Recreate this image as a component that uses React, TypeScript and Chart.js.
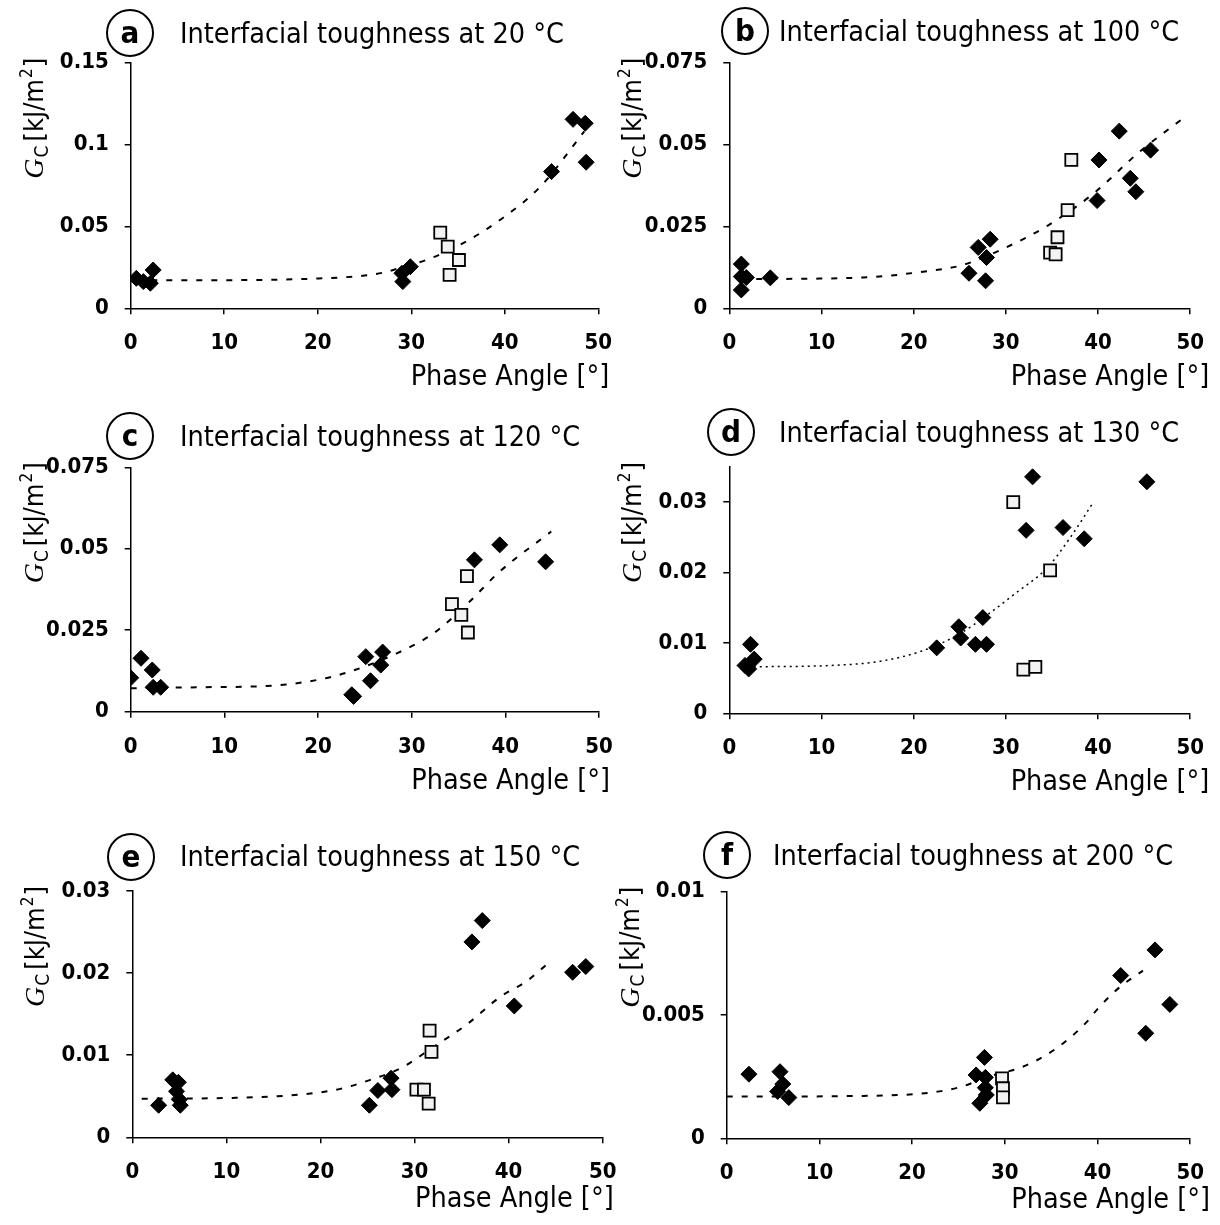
import React, { useEffect, useRef } from 'react';
import { Chart, registerables } from 'chart.js';

Chart.register(...registerables);

const FONT = "'DejaVu Sans Condensed', 'DejaVu Sans', sans-serif";

// ---------- data ----------
const panelLetters = ['a', 'b', 'c', 'd', 'e', 'f'];
const panelTitles = [
  'Interfacial toughness at 20 °C',
  'Interfacial toughness at 100 °C',
  'Interfacial toughness at 120 °C',
  'Interfacial toughness at 130 °C',
  'Interfacial toughness at 150 °C',
  'Interfacial toughness at 200 °C',
];
const xTitle = 'Phase Angle [°]';
const xTicks = [0, 10, 20, 30, 40, 50];
const yTicksA = [0, 0.05, 0.1, 0.15];
const yTicksB = [0, 0.025, 0.05, 0.075];
const yTicksC = [0, 0.025, 0.05, 0.075];
const yTicksD = [0, 0.01, 0.02, 0.03];
const yTicksE = [0, 0.01, 0.02, 0.03];
const yTicksF = [0, 0.005, 0.01];
const yMaxes = [0.15, 0.075, 0.075, 0.035, 0.03, 0.01];

// panel a (20 °C)
const aDiamonds = [[0.6, 0.0183], [1.35, 0.0163], [2.1, 0.0153], [2.4, 0.0234], [29.0, 0.0214], [29.1, 0.0163], [29.9, 0.0254], [45.0, 0.0835], [47.3, 0.1154], [48.6, 0.113], [48.7, 0.0892]];
const aSquares = [[33.1, 0.0462], [33.9, 0.0377], [35.1, 0.0295], [34.1, 0.0204]];
const aTrend = [[0.6, 0.0172], [10, 0.0172], [20, 0.0182], [25, 0.02], [27, 0.0218], [29, 0.025], [31.6, 0.0295], [35.2, 0.0387], [39.5, 0.054], [43.8, 0.0743], [48.5, 0.108]];

// panel b (100 °C)
const bDiamonds = [[1.3, 0.0135], [1.3, 0.0097], [1.85, 0.0094], [1.3, 0.0056], [4.45, 0.0093], [26.0, 0.0107], [27.0, 0.0186], [27.9, 0.0155], [28.3, 0.0211], [27.8, 0.0084], [39.9, 0.0329], [40.1, 0.0453], [42.3, 0.0541], [43.5, 0.0397], [44.1, 0.0356], [45.7, 0.0483]];
const bSquares = [[37.1, 0.0453], [36.7, 0.03], [35.6, 0.0217], [34.8, 0.017], [35.4, 0.0165]];
const bTrend = [[1.3, 0.0089], [14.5, 0.0094], [21.6, 0.0114], [25.3, 0.0132], [29.8, 0.0183], [34.5, 0.0252], [39.4, 0.0348], [44.5, 0.0478], [49.7, 0.059]];

// panel c (120 °C)
const cDiamonds = [[0, 0.0104], [1.1, 0.0164], [2.3, 0.0128], [2.4, 0.0075], [3.2, 0.0075], [23.6, 0.0052], [23.8, 0.0047], [25.1, 0.0169], [25.6, 0.0095], [26.7, 0.0143], [26.9, 0.0183], [36.7, 0.0466], [39.4, 0.0512], [44.3, 0.046]];
const cSquares = [[35.9, 0.0416], [34.3, 0.033], [35.3, 0.0297], [36.0, 0.0243]];
const cTrend = [[0, 0.0072], [7.4, 0.0075], [15.2, 0.008], [20.2, 0.0099], [23.4, 0.0123], [28.4, 0.0179], [32.3, 0.024], [35.9, 0.033], [39.4, 0.043], [44.9, 0.0553]];

// panel d (130 °C)
const dDiamonds = [[1.7, 0.0068], [2.1, 0.0063], [2.7, 0.0077], [2.3, 0.0098], [22.5, 0.0093], [24.9, 0.0123], [25.1, 0.0107], [26.7, 0.0098], [27.5, 0.0136], [27.9, 0.0098], [32.2, 0.026], [32.9, 0.0336], [36.2, 0.0264], [38.5, 0.0248], [45.3, 0.0329]];
const dSquares = [[30.8, 0.03], [31.9, 0.0062], [33.2, 0.0066], [34.8, 0.0203]];
const dTrend = [[2.0, 0.0066], [11.1, 0.0068], [16.4, 0.0074], [21, 0.0089], [25, 0.0113], [28.1, 0.0141], [31, 0.017], [34.5, 0.0207], [37, 0.025], [39.4, 0.0298]];

// panel e (150 °C)
const eDiamonds = [[2.8, 0.0039], [4.3, 0.007], [4.9, 0.0067], [4.7, 0.0056], [5.0, 0.0046], [5.1, 0.0039], [25.2, 0.0039], [26.1, 0.0057], [27.5, 0.0072], [27.6, 0.0058], [36.1, 0.0238], [37.2, 0.0264], [40.6, 0.016], [46.8, 0.0201], [48.2, 0.0208]];
const eSquares = [[31.6, 0.013], [31.8, 0.0104], [30.2, 0.0058], [31.0, 0.0058], [31.5, 0.0041]];
const eTrend = [[1, 0.0047], [10.7, 0.0048], [17.8, 0.0052], [22.1, 0.0059], [25.3, 0.007], [28.5, 0.0084], [32, 0.011], [35.5, 0.0137], [39.1, 0.0171], [41.9, 0.019], [44.2, 0.0212]];

// panel f (200 °C)
const fDiamonds = [[2.4, 0.0026], [5.75, 0.0027], [6.05, 0.0022], [5.5, 0.0019], [6.7, 0.00165], [26.9, 0.00257], [27.8, 0.00328], [27.9, 0.00247], [27.9, 0.00205], [28.0, 0.00176], [27.3, 0.00142], [42.5, 0.0066], [46.2, 0.00764], [45.2, 0.00426], [47.8, 0.00543]];
const fSquares = [[29.7, 0.00243], [29.8, 0.00203], [29.8, 0.00166]];
const fTrend = [[0, 0.00169], [14.8, 0.00172], [21.9, 0.00185], [25.4, 0.0021], [28.2, 0.0025], [31.8, 0.00288], [35.3, 0.00358], [38.8, 0.0047], [39.9, 0.0052], [42.3, 0.0061], [44.9, 0.0068]];

const diamondSets = [aDiamonds, bDiamonds, cDiamonds, dDiamonds, eDiamonds, fDiamonds];
const squareSets = [aSquares, bSquares, cSquares, dSquares, eSquares, fSquares];
const trendSets = [aTrend, bTrend, cTrend, dTrend, eTrend, fTrend];
const yTickSets = [yTicksA, yTicksB, yTicksC, yTicksD, yTicksE, yTicksF];

// ---------- layout (page coordinates) ----------
const W = 1220;
const H = 1225;
const LAYOUT = [
  { pl: 130.7, pr: 598.3, pt: 62.7, pb: 308.3, cx: 130, cy: 33, tx: 180, ty: 42.5, xtDy: 77, dash: [6, 9], lw: 2 },
  { pl: 729.3, pr: 1198.3, pt: 62.7, pb: 308.3, cx: 745, cy: 31, tx: 779, ty: 41, xtDy: 77, dash: [6, 9], lw: 2 },
  { pl: 130.7, pr: 599, pt: 467.3, pb: 711.7, cx: 130, cy: 436, tx: 180, ty: 445.5, xtDy: 77, dash: [6, 9], lw: 2 },
  { pl: 729.3, pr: 1198.3, pt: 467, pb: 713.3, cx: 731, cy: 432, tx: 779, ty: 442, xtDy: 77, dash: [2, 4], lw: 1.5 },
  { pl: 132.3, pr: 602.7, pt: 891, pb: 1137.3, cx: 131, cy: 857, tx: 180, ty: 866, xtDy: 70, dash: [6, 9], lw: 2 },
  { pl: 726.7, pr: 1199, pt: 891.7, pb: 1138.3, cx: 727, cy: 855, tx: 773, ty: 865, xtDy: 70, dash: [6, 9], lw: 2 },
];

const Y_AXIS_W = 110;
const X_AXIS_H = 50;
const TEXT_SIZE = 28.5;

function makeDeco(idx: number) {
  const L = LAYOUT[idx];
  return {
    id: 'deco' + idx,
    afterDraw(chart: any) {
      const ctx = chart.ctx;
      ctx.save();
      ctx.fillStyle = '#000';
      ctx.strokeStyle = '#000';
      // circled letter
      ctx.beginPath();
      ctx.lineWidth = 2;
      ctx.arc(L.cx, L.cy, 23, 0, Math.PI * 2);
      ctx.stroke();
      ctx.font = `bold 31px ${FONT}`;
      ctx.textAlign = 'center';
      ctx.textBaseline = 'alphabetic';
      ctx.fillText(panelLetters[idx], L.cx, L.cy + 10);
      // title
      ctx.font = `${TEXT_SIZE}px ${FONT}`;
      ctx.textAlign = 'left';
      ctx.fillText(panelTitles[idx], L.tx, L.ty);
      // x title
      ctx.textAlign = 'right';
      ctx.fillText(xTitle, L.pr + 11, L.pb + L.xtDy);
      // y title (rotated)
      ctx.save();
      ctx.translate(L.pl - 88, L.pt + 116);
      ctx.rotate(-Math.PI / 2);
      ctx.textAlign = 'left';
      let x = 0;
      ctx.font = "italic 28px 'Liberation Serif', serif";
      ctx.fillText('G', x, 0);
      x += ctx.measureText('G').width + 1;
      ctx.font = `19px ${FONT}`;
      ctx.fillText('C', x, 5);
      x += ctx.measureText('C').width + 4;
      ctx.font = `27px ${FONT}`;
      ctx.fillText('[kJ/m', x, 0);
      x += ctx.measureText('[kJ/m').width + 1;
      ctx.font = `17px ${FONT}`;
      ctx.fillText('2', x, -11);
      x += ctx.measureText('2').width + 1;
      ctx.font = `27px ${FONT}`;
      ctx.fillText(']', x, 0);
      ctx.restore();
      ctx.restore();
    },
  };
}

function Panel({ idx }: { idx: number }) {
  const ref = useRef<HTMLCanvasElement>(null);
  useEffect(() => {
    const L = LAYOUT[idx];
    const toXY = (arr: number[][]) => arr.map(([x, y]) => ({ x, y }));
    const yTicks = yTickSets[idx];
    const tickFont = { family: FONT, size: 22, weight: 'bold' };
    const chart = new Chart(ref.current as HTMLCanvasElement, {
      type: 'scatter',
      data: {
        datasets: [
          {
            data: toXY(diamondSets[idx]),
            pointStyle: 'rectRot',
            pointRadius: 8,
            backgroundColor: '#000',
            borderColor: '#000',
            borderWidth: 1,
          } as any,
          {
            data: toXY(squareSets[idx]),
            pointStyle: 'rect',
            pointRadius: 8.5,
            backgroundColor: '#f2f2f2',
            borderColor: '#000',
            borderWidth: 1.8,
          } as any,
          {
            type: 'line',
            data: toXY(trendSets[idx]),
            borderColor: '#000',
            borderWidth: L.lw,
            borderDash: L.dash,
            pointRadius: 0,
            fill: false,
            showLine: true,
            cubicInterpolationMode: 'monotone',
          } as any,
        ],
      },
      options: {
        responsive: false,
        animation: false,
        devicePixelRatio: 1,
        layout: {
          padding: {
            left: L.pl - Y_AXIS_W,
            right: W - L.pr,
            top: L.pt,
            bottom: H - L.pb - X_AXIS_H,
          },
        },
        plugins: { legend: { display: false }, tooltip: { enabled: false } },
        scales: {
          x: {
            type: 'linear',
            min: 0,
            max: 50,
            afterBuildTicks: (s: any) => {
              s.ticks = xTicks.map((v) => ({ value: v }));
            },
            afterFit: (s: any) => {
              s.height = X_AXIS_H;
            },
            grid: { drawOnChartArea: false, tickLength: 6, color: '#000', lineWidth: 1.5 },
            border: { color: '#000', width: 1.5 },
            ticks: {
              font: tickFont,
              color: '#000',
              padding: 16,
              maxRotation: 0,
              autoSkip: false,
              callback: (v: any) => String(v),
            },
          },
          y: {
            type: 'linear',
            min: 0,
            max: yMaxes[idx],
            afterBuildTicks: (s: any) => {
              s.ticks = yTicks.map((v) => ({ value: v }));
            },
            afterFit: (s: any) => {
              s.width = Y_AXIS_W;
            },
            grid: { drawOnChartArea: false, tickLength: 6, color: '#000', lineWidth: 1.5 },
            border: { color: '#000', width: 1.5 },
            ticks: {
              font: tickFont,
              color: '#000',
              padding: 16,
              autoSkip: false,
              callback: (v: any) => String(v),
            },
          },
        },
      } as any,
      plugins: [makeDeco(idx)],
    });
    return () => chart.destroy();
  }, [idx]);
  return (
    <canvas
      ref={ref}
      width={W}
      height={H}
      style={{ position: 'absolute', left: 0, top: 0, width: W, height: H }}
    />
  );
}

export default function App() {
  return (
    <div style={{ position: 'absolute', left: 0, top: 0, width: W, height: H, background: '#fff' }}>
      {[0, 1, 2, 3, 4, 5].map((i) => (
        <Panel key={i} idx={i} />
      ))}
    </div>
  );
}
